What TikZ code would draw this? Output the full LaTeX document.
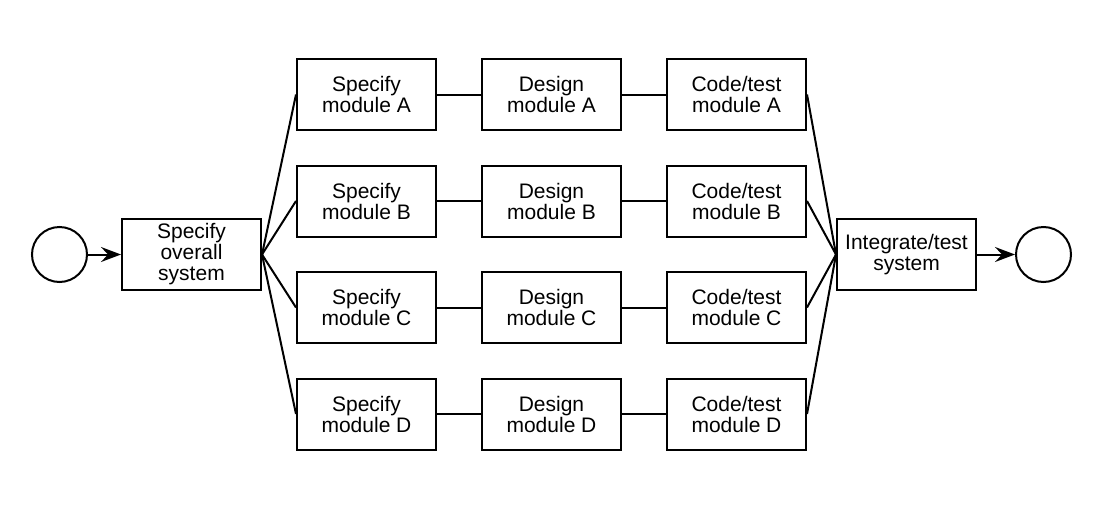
\documentclass[tikz,border=0pt]{standalone}
\usepackage{fontspec}
\setmainfont{Liberation Sans}
\usetikzlibrary{arrows.meta}
\begin{document}
\begin{tikzpicture}[x=1pt,y=-1pt,
  box/.style={draw, line width=2pt, minimum width=139pt, minimum height=71pt, inner sep=0pt, align=center, font=\fontsize{21}{21}\selectfont},
  term/.style={draw, circle, line width=2pt, minimum size=55pt, inner sep=0pt},
  link/.style={line width=2pt},
  arr/.style={line width=2pt, -{Stealth[length=20pt,width=15pt,inset=7pt]}}]
\useasboundingbox (0,0) rectangle (1094,522);
\node[term] (start) at (59.5,254.5) {};
\node[box] (ov) at (191.5,254.5) {Specify\\overall\\system};
\node[box] (sA) at (366.5,94.5) {Specify\\module A};
\node[box] (sB) at (366.5,201) {Specify\\module B};
\node[box] (sC) at (366.5,307.5) {Specify\\module C};
\node[box] (sD) at (366.5,414) {Specify\\module D};
\node[box] (dA) at (551.5,94.5) {Design\\module A};
\node[box] (dB) at (551.5,201) {Design\\module B};
\node[box] (dC) at (551.5,307.5) {Design\\module C};
\node[box] (dD) at (551.5,414) {Design\\module D};
\node[box] (cA) at (736.5,94.5) {Code/test\\module A};
\node[box] (cB) at (736.5,201) {Code/test\\module B};
\node[box] (cC) at (736.5,307.5) {Code/test\\module C};
\node[box] (cD) at (736.5,414) {Code/test\\module D};
\node[box] (int) at (906.5,254.5) {Integrate/test\\system};
\node[term] (end) at (1043.5,254.5) {};
\draw[arr] (start) -- (ov);
\draw[arr] (int) -- (end);
\foreach \r in {A,B,C,D}{
  \draw[link] (ov.east) -- (s\r.west);
  \draw[link] (s\r) -- (d\r);
  \draw[link] (d\r) -- (c\r);
  \draw[link] (c\r.east) -- (int.west);
}
\end{tikzpicture}
\end{document}
